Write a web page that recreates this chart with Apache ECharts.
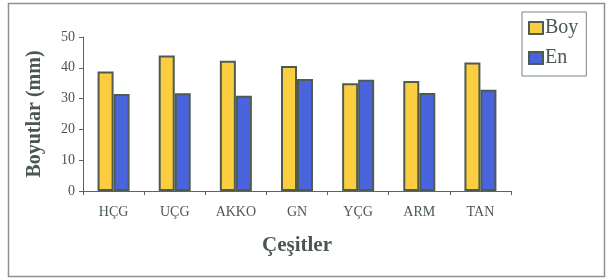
<!DOCTYPE html>
<html><head><meta charset="utf-8">
<script src="https://cdn.jsdelivr.net/npm/echarts@6/dist/echarts.min.js"></script>
<style>html,body{margin:0;padding:0;background:#fff}#c{width:607px;height:279px}</style>
</head><body><div id="c"></div>
<script>
var categories = ['HÇG','UÇG','AKKO','GN','YÇG','ARM','TAN'];
var boy = [38.8, 44.0, 42.3, 40.6, 35.0, 35.7, 41.7];
var en = [31.5, 31.7, 30.9, 36.4, 36.1, 31.8, 32.9];
var seriesNames = ['Boy','En'];
var yTitle = 'Boyutlar (mm)';
var xTitle = 'Çeşitler';

var serif = '"Liberation Serif","Times New Roman",serif';
var txt = '#4a5654';
var chart = echarts.init(document.getElementById('c'), null, {renderer:'canvas'});
chart.setOption({
  animation:false,
  graphic:[{type:'rect', shape:{x:8.5,y:3.5,width:596,height:273}, style:{fill:'none', stroke:'#8a9290', lineWidth:1.5}, z:-1}],
  grid:{left:83, right:96, top:37, bottom:88},
  legend:{
    orient:'vertical', left:522, top:12, padding:[6,8,8,6], itemGap:10,
    borderColor:'#7a8280', borderWidth:1, itemWidth:14, itemHeight:12,
    icon:'rect',
    textStyle:{fontFamily:serif, fontSize:20, color:txt, padding:[0,0,0,-3]},
    data:seriesNames
  },
  xAxis:{
    type:'category', data:categories,
    axisLine:{lineStyle:{color:'#5a6462', width:1}},
    axisTick:{show:true, length:4, lineStyle:{color:'#5a6462'}},
    axisLabel:{fontFamily:serif, fontSize:14, color:txt, margin:14},
    name:xTitle, nameLocation:'middle', nameGap:44,
    nameTextStyle:{fontFamily:serif, fontSize:21, fontWeight:'bold', color:txt}
  },
  yAxis:{
    type:'value', min:0, max:50, interval:10,
    axisLine:{show:true, lineStyle:{color:'#5a6462', width:1}},
    axisTick:{show:true, length:4, lineStyle:{color:'#5a6462'}},
    splitLine:{show:false},
    axisLabel:{fontFamily:serif, fontSize:14, color:txt, margin:8},
    name:yTitle, nameLocation:'middle', nameGap:38,
    nameTextStyle:{fontFamily:serif, fontSize:20, fontWeight:'bold', color:txt}
  },
  series:[
    {name:seriesNames[0], type:'bar', data:boy, barWidth:16, barGap:'0%',
     itemStyle:{color:'#FDCD40', borderColor:'#4d5c4f', borderWidth:2}},
    {name:seriesNames[1], type:'bar', data:en, barWidth:16, barGap:'0%',
     itemStyle:{color:'#4A64DE', borderColor:'#4d5c4f', borderWidth:2}}
  ]
});
</script></body></html>
